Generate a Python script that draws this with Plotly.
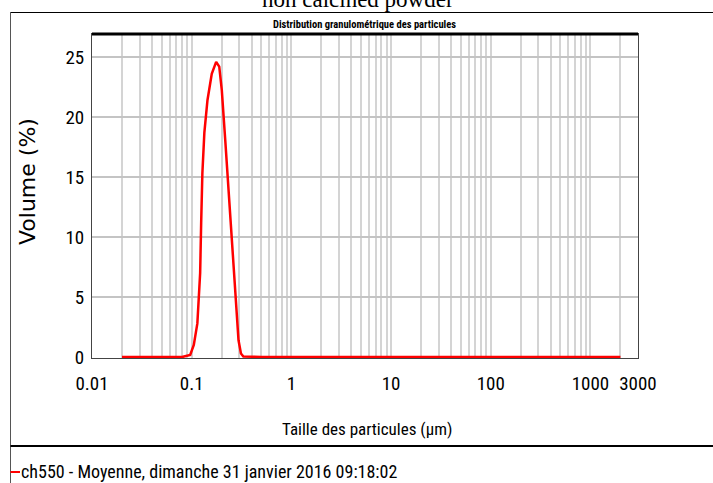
import math
import plotly.graph_objects as go

# ---------------- data ----------------
size_um = [0.02, 0.05, 0.08, 0.0966, 0.105, 0.114, 0.1216, 0.1245, 0.128, 0.134,
           0.144, 0.159, 0.176, 0.189, 0.2005, 0.217, 0.234, 0.253, 0.273, 0.295,
           0.312, 0.33, 0.5, 1, 10, 100, 1000, 2000]
volume_pct = [0, 0, 0, 0.17, 1.0, 2.8, 7.0, 11.2, 15.3, 18.7,
              21.4, 23.6, 24.6, 24.2, 22.25, 18.1, 13.9, 9.2, 4.75, 1.4,
              0.3, 0.05, 0, 0, 0, 0, 0, 0]

x_tickvals = [0.01, 0.1, 1, 10, 100, 1000, 3000]
x_ticktext = ["0.01", "0.1", "1", "10", "100", "1000", "3000"]
y_tickvals = [0, 5, 10, 15, 20, 25]
series_name = "ch550 - Moyenne, dimanche 31 janvier 2016 09:18:02"
main_title = "non calcined powder"
sub_title = "Distribution granulométrique des particules"
x_title = "Taille des particules (µm)"
y_title = "Volume (%)"

# ---------------- layout geometry ----------------
W, H = 713, 483
L, R, T, B = 92, 75, 34, 125
PW, PH = W - L - R, H - T - B

def px2x(p):
    return (p - L) / PW

def px2y(p):
    return (H - B - p) / PH

NARROW = "Roboto Condensed, Liberation Sans Narrow, Arial Narrow, sans-serif"

minor_vals = [k * 10 ** e for e in range(-2, 4) for k in range(2, 10) if k * 10 ** e < 3000]

fig = go.Figure()
fig.add_trace(go.Scatter(
    x=size_um, y=volume_pct, mode="lines", name=series_name,
    line=dict(color="#ff0000", width=2.5), showlegend=False,
))

fig.update_layout(
    width=W, height=H,
    margin=dict(l=L, r=R, t=T, b=B, pad=0),
    paper_bgcolor="white", plot_bgcolor="white",
    xaxis=dict(
        type="log", range=[-2, math.log10(3000)],
        tickmode="array", tickvals=x_tickvals, ticktext=x_ticktext,
        showgrid=True, gridcolor="#d4d4d4", gridwidth=1.5,
        minor=dict(tickmode="array", tickvals=minor_vals, showgrid=True,
                   gridcolor="#d4d4d4", gridwidth=1.5, ticks=""),
        showline=True, linecolor="#444444", linewidth=1, mirror=True,
        ticks="", ticklabelstandoff=8,
        tickfont=dict(family=NARROW, size=19, color="black"),
        zeroline=False,
    ),
    yaxis=dict(
        range=[-0.08, 26.92],
        tickmode="array", tickvals=y_tickvals,
        showgrid=True, gridcolor="#c4c4c4", gridwidth=2,
        showline=True, linecolor="#444444", linewidth=1, mirror=True,
        ticks="", ticklabelstandoff=3,
        tickfont=dict(family=NARROW, size=19, color="black"),
        zeroline=False,
    ),
)

ann = [
    dict(text=main_title, x=px2x(358), y=px2y(0), xref="paper", yref="paper",
         xanchor="center", yanchor="middle", showarrow=False,
         font=dict(family="Liberation Serif, Times New Roman, serif", size=23, color="black")),
    dict(text="<b>" + sub_title + "</b>", x=px2x(364), y=px2y(24), xref="paper", yref="paper",
         xanchor="center", yanchor="middle", showarrow=False,
         font=dict(family=NARROW, size=10.5, color="black")),
    dict(text=y_title, x=px2x(27), y=px2y(182), xref="paper", yref="paper",
         xanchor="center", yanchor="middle", showarrow=False, textangle=-90,
         font=dict(family="DejaVu Sans, sans-serif", size=22, color="black")),
    dict(text=x_title, x=px2x(367), y=px2y(429), xref="paper", yref="paper",
         xanchor="center", yanchor="middle", showarrow=False,
         font=dict(family=NARROW, size=17, color="black")),
    dict(text=series_name, x=px2x(19), y=px2y(471), xref="paper", yref="paper",
         xanchor="left", yanchor="middle", showarrow=False,
         font=dict(family=NARROW, size=18, color="black")),
]
fig.update_layout(annotations=ann)

shapes = [
    # outer frame
    dict(type="line", xref="paper", yref="paper", x0=px2x(10.5), x1=px2x(10.5),
         y0=px2y(12.5), y1=px2y(490), line=dict(color="#555555", width=1)),
    dict(type="line", xref="paper", yref="paper", x0=px2x(10.5), x1=px2x(720),
         y0=px2y(12.5), y1=px2y(12.5), line=dict(color="black", width=1)),
    dict(type="line", xref="paper", yref="paper", x0=px2x(10.5), x1=px2x(720),
         y0=px2y(446), y1=px2y(446), line=dict(color="black", width=2)),
    # thick top border of plot
    dict(type="line", xref="paper", yref="paper", x0=0, x1=1, y0=1, y1=1,
         line=dict(color="black", width=3)),
    # legend key
    dict(type="line", xref="paper", yref="paper", x0=px2x(10.5), x1=px2x(20),
         y0=px2y(472), y1=px2y(472), line=dict(color="#ff0000", width=2)),
]
fig.update_layout(shapes=shapes)

fig.write_html("out.html")
